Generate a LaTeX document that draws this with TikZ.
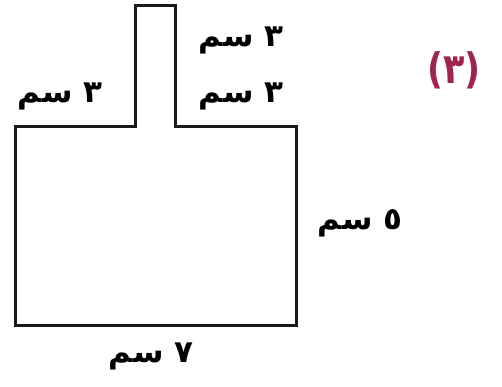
\documentclass[tikz,border=0pt]{standalone}
\usepackage{fontspec}
\TeXXeTstate=1
\newfontfamily\arabicfont[Script=Arabic]{DejaVu Sans}
\definecolor{numpurple}{HTML}{A0244F}
\begin{document}
\begin{tikzpicture}[x=1pt,y=-1pt,
  shapeline/.style={draw=black!90,line width=3pt,line join=miter},
  lbl/.style={font=\arabicfont\bfseries\fontsize{31}{36}\selectfont,inner sep=0pt,text=black}]
\useasboundingbox (0,0) rectangle (502,387);
\coordinate (a) at (15,127);
\coordinate (b) at (135,127);
\coordinate (c) at (135,6);
\coordinate (d) at (175,6);
\coordinate (e) at (175,127);
\coordinate (f) at (296,127);
\coordinate (g) at (296,325);
\coordinate (h) at (15,325);
\draw[shapeline] (a) -- (b) -- (c) -- (d) -- (e) -- (f) -- (g) -- (h) -- cycle;
\node[lbl] (l1) at (241,40) {\beginR ٣ سم\endR};
\node[lbl] (l2) at (241,96) {\beginR ٣ سم\endR};
\node[lbl] (l3) at (60,96) {\beginR ٣ سم\endR};
\node[lbl] (l4) at (360,223) {\beginR ٥ سم\endR};
\node[lbl] (l5) at (151,356) {\beginR ٧ سم\endR};
\node[lbl,text=numpurple,font=\arabicfont\bfseries\fontsize{35}{40}\selectfont,yscale=1.2] (num) at (454,70) {(٣)};
\end{tikzpicture}
\end{document}
